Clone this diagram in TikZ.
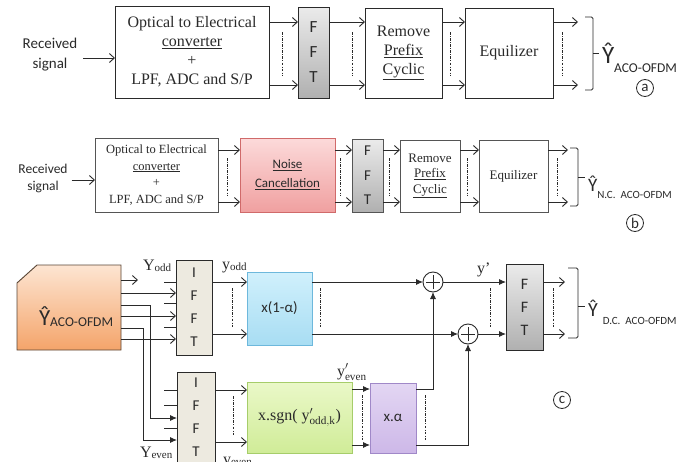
\documentclass[tikz,border=0pt]{standalone}
\usepackage{fontspec}
\setmainfont{Liberation Serif}
\newfontfamily\calfont{Carlito}
\usetikzlibrary{arrows.meta,calc}
\definecolor{or1}{HTML}{FDE5D2}
\definecolor{or2}{HTML}{F4A46A}
\definecolor{obord}{HTML}{5A4636}
\definecolor{ifill}{HTML}{EDEAE0}
\definecolor{bl1}{HTML}{D0F0FC}
\definecolor{bl2}{HTML}{A8DDF3}
\definecolor{blb}{HTML}{6DB8DC}
\definecolor{gr1}{HTML}{EAF8C8}
\definecolor{gr2}{HTML}{D0EC98}
\definecolor{grb}{HTML}{A6CD6A}
\definecolor{pu1}{HTML}{E3D6F3}
\definecolor{pu2}{HTML}{CDB8E8}
\definecolor{pub}{HTML}{A088C8}
\definecolor{pk1}{HTML}{FCDADA}
\definecolor{pk2}{HTML}{F0A0A0}
\definecolor{pkb}{HTML}{D06A6A}
\definecolor{ff1}{HTML}{EBEBEB}
\definecolor{ff2}{HTML}{B0B0B0}
\definecolor{ink}{HTML}{2A2A2A}
\begin{document}
\begin{tikzpicture}[x=1pt,y=-1pt,
  every node/.style={inner sep=0pt, outer sep=0pt, text=ink},
  box/.style={draw=ink, line width=0.9pt, fill=white, align=center},
  boxb/.style={draw=ink!80, line width=0.8pt, fill=white, align=center},
  fftbox/.style={draw=ink, line width=0.9pt, top color=ff1, bottom color=ff2, align=center},
  ifbox/.style={draw=ink, line width=0.9pt, fill=ifill, align=center, font=\calfont\fontsize{15}{23}\selectfont},
  bluebox/.style={draw=blb, line width=0.9pt, top color=bl1, bottom color=bl2, align=center},
  greenbox/.style={draw=grb, line width=0.9pt, top color=gr1, bottom color=gr2, align=center},
  purplebox/.style={draw=pub, line width=0.9pt, top color=pu1, bottom color=pu2, align=center},
  pinkbox/.style={draw=pkb, line width=0.9pt, top color=pk1, bottom color=pk2, align=center},
  oarr/.style={draw=ink, line width=0.9pt, -{Straight Barb[length=5pt,width=9pt]}},
  farr/.style={draw=ink, line width=0.9pt, -{Latex[length=7pt,width=6pt]}},
  ln/.style={draw=ink, line width=0.9pt},
  dd/.style={draw=ink, line width=0.6pt, dash pattern=on 2.5pt off 1.5pt on 0.6pt off 1.5pt},
  brk/.style={draw=ink, line width=0.9pt, rounded corners=1.5pt},
  plus/.style={circle, draw=ink, line width=0.9pt, minimum size=20pt, fill=white,
    path picture={\draw[ink, line width=0.9pt] ([yshift=-7pt]path picture bounding box.center) -- ([yshift=7pt]path picture bounding box.center)
      ([xshift=-7pt]path picture bounding box.center) -- ([xshift=7pt]path picture bounding box.center);}},
  tag/.style={circle, draw=ink, line width=0.8pt, minimum size=17pt, font=\calfont\fontsize{15}{15}\selectfont}
]
\useasboundingbox[fill=white] (0,0) rectangle (678,461);

%% ---------------- (a) ----------------
\node[align=center, font=\calfont\fontsize{15}{20}\selectfont] (rsA) at (50,55) {Received\\signal};
\node[box, minimum width=154, minimum height=92, font=\fontsize{16}{19}\selectfont] (oeA) at (192,52)
  {Optical to Electrical\\\underline{converter}\\+\\LPF, ADC and S/P};
\node[fftbox, minimum width=31, minimum height=91, font=\calfont\fontsize{17}{25}\selectfont] (fftA) at (313.5,52.5) {F\\F\\T};
\node[box, minimum width=77, minimum height=90, font=\fontsize{16}{19}\selectfont] (rpA) at (403.5,53)
  {Remove\\\underline{Prefix}\\\underline{Cyclic}};
\node[box, minimum width=88, minimum height=90, font=\fontsize{16}{19}\selectfont] (eqA) at (509,53) {Equilizer};
\coordinate (aoT) at (578,22);
\coordinate (aoB) at (578,85);
\draw[oarr] ([xshift=6pt]rsA.east |- 0,58) -- (oeA.west |- 0,58);
\foreach \yy in {22,85}{
  \draw[oarr] (oeA.east |- 0,\yy) -- (fftA.west |- 0,\yy);
  \draw[oarr] (fftA.east |- 0,\yy) -- (rpA.west |- 0,\yy);
  \draw[oarr] (rpA.east |- 0,\yy) -- (eqA.west |- 0,\yy);
}
\draw[oarr] (eqA.east |- aoT) -- (aoT);
\draw[oarr] (eqA.east |- aoB) -- (aoB);
\foreach \xx in {282,352,450,562}{ \draw[dd] (\xx,32) -- (\xx,76); }
\draw[brk] (585,17) -- (593,17) -- (593,90) -- (585,90);
\draw[ln] (593,53) -- (599,53);
\node[anchor=base west] (labA) at (602,63)
  {\calfont\fontsize{25}{25}\selectfont\^{Y}\fontsize{13.5}{13.5}\selectfont\raisebox{-9pt}{ACO-OFDM}};
\node[tag] (ca) at (645,88) {a};

%% ---------------- (b) ----------------
\node[align=center, font=\calfont\fontsize{13.5}{17}\selectfont] (rsB) at (43,178) {Received\\signal};
\node[boxb, minimum width=123, minimum height=74, font=\fontsize{12.5}{16.5}\selectfont] (oeB) at (156.5,175)
  {Optical to Electrical\\\underline{converter}\\+\\LPF, ADC and S/P};
\node[pinkbox, minimum width=95, minimum height=74, font=\calfont\fontsize{13}{19}\selectfont] (ncB) at (287.5,175)
  {\underline{Noise}\\\underline{Cancellation}};
\node[fftbox, draw=ink!80, minimum width=31, minimum height=73, font=\calfont\fontsize{15}{24.5}\selectfont] (fftB) at (367.5,175.5) {F\\F\\T};
\node[boxb, minimum width=60, minimum height=72, font=\fontsize{13}{15.5}\selectfont] (rpB) at (430,176)
  {Remove\\\underline{Prefix}\\\underline{Cyclic}};
\node[boxb, minimum width=69, minimum height=72, font=\fontsize{13}{15.5}\selectfont] (eqB) at (513.5,176) {Equilizer};
\coordinate (boT) at (568,150);
\coordinate (boB) at (568,202);
\draw[oarr] ([xshift=4pt]rsB.east |- 0,180) -- (oeB.west |- 0,180);
\foreach \yy in {150,202}{
  \draw[oarr] (oeB.east |- 0,\yy) -- (ncB.west |- 0,\yy);
  \draw[oarr] (ncB.east |- 0,\yy) -- (fftB.west |- 0,\yy);
  \draw[oarr] (fftB.east |- 0,\yy) -- (rpB.west |- 0,\yy);
  \draw[oarr] (rpB.east |- 0,\yy) -- (eqB.west |- 0,\yy);
}
\draw[oarr] (eqB.east |- boT) -- (boT);
\draw[oarr] (eqB.east |- boB) -- (boB);
\foreach \xx in {227,340,389,467,557}{ \draw[dd] (\xx,158) -- (\xx,195); }
\draw[brk] (570,148) -- (578,148) -- (578,206) -- (570,206);
\draw[ln] (578,177) -- (585,177);
\node[anchor=base west] (labB) at (588,191)
  {\calfont\fontsize{19}{19}\selectfont\^{Y}\fontsize{11}{11}\selectfont\raisebox{-7.5pt}{N.C.\ \ ACO-OFDM}};
\node[tag] (cb) at (635,223) {b};

%% ---------------- (c) ----------------
\node[minimum width=104, minimum height=85] (yac) at (69,307.5) {};
\path[draw=obord, line width=0.9pt, top color=or1, bottom color=or2]
  ($(yac.north west)+(20,0)$) -- (yac.north east) -- (yac.south east) -- (yac.south west)
  -- ($(yac.north west)+(0,18)$) -- cycle;
\node[anchor=base west] (yacT) at (39,325)
  {\calfont\fontsize{23}{23}\selectfont\^{Y}\fontsize{13.5}{13.5}\selectfont\raisebox{-1pt}{ACO-OFDM}};

\node[ifbox, minimum width=36, minimum height=95] (if1) at (194,307.5) {I\\F\\F\\T};
\node[ifbox, minimum width=38, minimum height=90] (if2) at (196,417) {I\\F\\F\\T};

\coordinate (stubE) at (138,280);
\draw[oarr] (yac.east |- stubE) -- (stubE);
\foreach \yy in {293,316,339}{ \draw[oarr] (yac.east |- 0,\yy) -- (if1.west |- 0,\yy); }
\draw[farr] (yac.east |- 0,305) -- (150,305) |- (if2.west |- 0,418);
\draw[farr] (yac.east |- 0,328) -- (143,328) |- (if2.west |- 0,440);
\foreach \yy in {282,303,327}{ \draw[ln] (if1.west |- 0,\yy) -- ++(-12,0); }
\foreach \yy in {390,405,428}{ \draw[ln] (if2.west |- 0,\yy) -- ++(-13,0); }

\node[anchor=base west] (lYodd) at (143,270)
  {\fontsize{16}{16}\selectfont Y\fontsize{11}{11}\selectfont\raisebox{-1pt}{odd}};
\node[anchor=base west] (lYeven) at (140,457)
  {\fontsize{16}{16}\selectfont Y\fontsize{11}{11}\selectfont\raisebox{-1pt}{even}};
\node[anchor=base west] (lyodd) at (222,269)
  {\fontsize{16}{16}\selectfont y\fontsize{11}{11}\selectfont\raisebox{-1pt}{odd}};
\node[anchor=base west] (lyeven) at (223,464)
  {\fontsize{16}{16}\selectfont y\fontsize{11}{11}\selectfont\raisebox{-1pt}{even}};

\node[bluebox, minimum width=65, minimum height=73, font=\calfont\fontsize{15}{15}\selectfont] (xb1) at (279.5,308.5) {x(1-α)};
\node[plus] (p1) at (433,282) {};
\node[plus] (p2) at (468,334) {};
\node[fftbox, minimum width=37, minimum height=86, font=\calfont\fontsize{16}{23}\selectfont] (fftC) at (524.5,307) {F\\F\\T};

\draw[oarr] (if1.east |- 0,282) -- (xb1.west |- 0,282);
\draw[oarr] (if1.east |- 0,334) -- (xb1.west |- 0,334);
\draw[farr] (xb1.east |- p1) -- (p1.west);
\draw[farr] (xb1.east |- p2) -- (p2.west);
\draw[farr] (p1.east) -- (fftC.west |- p1);
\draw[farr] (p2.east) -- (fftC.west |- p2);
\coordinate (coT) at (565,282);
\coordinate (coB) at (565,334);
\draw[oarr] (fftC.east |- coT) -- (coT);
\draw[oarr] (fftC.east |- coB) -- (coB);
\foreach \xx in {232,320,490,553}{ \draw[dd] (\xx,288) -- (\xx,328); }
\node[anchor=base west] (lyp) at (477,273) {\fontsize{16}{16}\selectfont y’};
\draw[brk] (568,268) -- (578,268) -- (578,338) -- (568,338);
\draw[ln] (578,306) -- (585,306);
\node[anchor=base west] (labC) at (588,316)
  {\calfont\fontsize{20}{20}\selectfont\^{Y}\hspace{5pt}\fontsize{11}{11}\selectfont\raisebox{-8pt}{D.C.\ \ ACO-OFDM}};
\node[tag] (cc) at (562,400) {c};

\node[greenbox, minimum width=105, minimum height=71, font=\fontsize{16}{16}\selectfont] (xs) at (299.5,417.5)
  {x.sgn( $\mathrm{y}'_{\mathrm{odd,k}}$)};
\node[purplebox, minimum width=46, minimum height=70, font=\calfont\fontsize{15}{15}\selectfont] (xa) at (393,418) {x.α};
\draw[oarr] (if2.east |- 0,390) -- (xs.west |- 0,390);
\draw[oarr] (if2.east |- 0,442) -- (xs.west |- 0,442);
\draw[farr] (xs.east |- 0,389) -- (xa.west |- 0,389);
\draw[farr] (xs.east |- 0,445) -- (xa.west |- 0,445);
\draw[farr] (xa.east |- 0,389) -| (p1.south);
\draw[farr] (xa.east |- 0,445) -| (p2.south);
\foreach \xx in {233}{ \draw[dd] (\xx,396) -- (\xx,436); }
\foreach \xx in {362,425}{ \draw[dd] (\xx,395) -- (\xx,440); }
\node[anchor=base west] (lype) at (337,376)
  {\fontsize{16}{16}\selectfont $\mathrm{y}'_{\mathrm{even}}$};
\end{tikzpicture}
\end{document}
